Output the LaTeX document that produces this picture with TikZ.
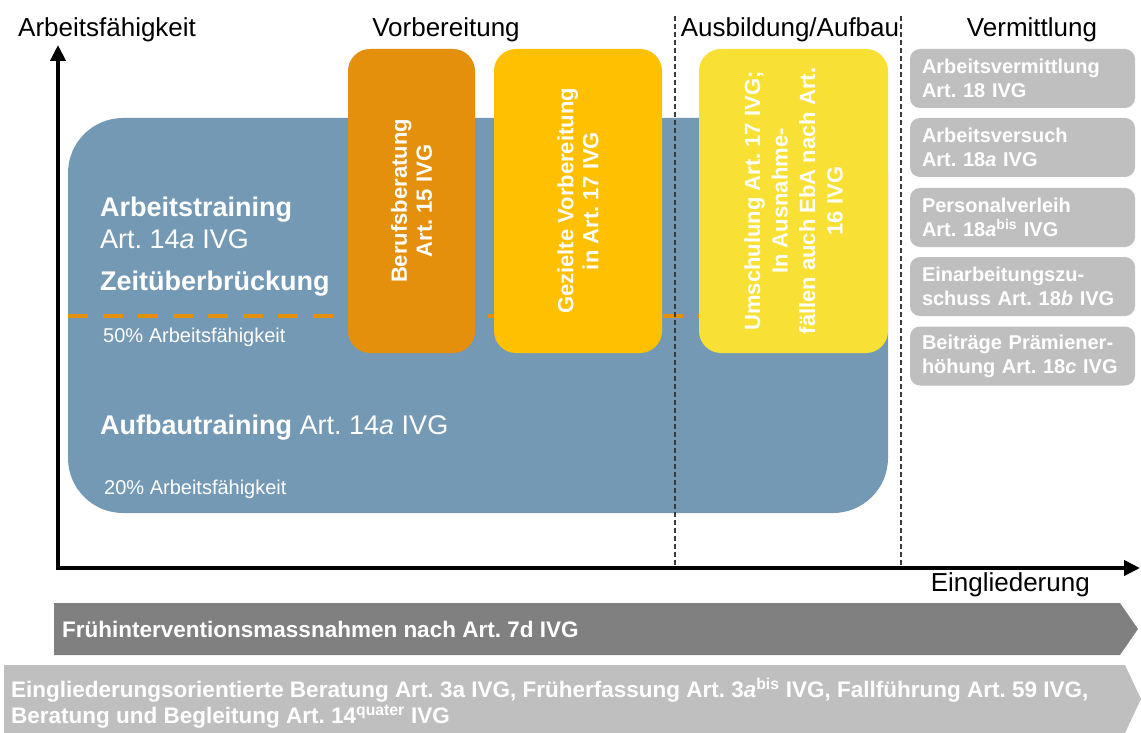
\documentclass[tikz,border=0pt]{standalone}
\usepackage{fontspec}
\setmainfont{Liberation Sans}
\usetikzlibrary{arrows.meta}
\frenchspacing

\definecolor{trainblue}{RGB}{116,153,181}
\definecolor{beratorange}{RGB}{228,144,13}
\definecolor{vorbgold}{RGB}{254,192,0}
\definecolor{umschulyellow}{RGB}{248,224,52}
\definecolor{vermgray}{RGB}{191,191,191}
\definecolor{fruehgray}{RGB}{128,128,128}
\definecolor{phasegray}{RGB}{60,60,60}

\begin{document}
\begin{tikzpicture}[x=1pt,y=-1pt,
  heading/.style={inner sep=0pt,font=\fontsize{26}{30}\selectfont},
  traintext/.style={anchor=base west,inner sep=0pt,text=white,font=\fontsize{27}{32}\selectfont},
  smalltext/.style={anchor=base west,inner sep=0pt,text=white,font=\fontsize{20}{24}\selectfont},
  massbox/.style={rotate=90,rounded corners=22pt,minimum width=304pt,align=center,text=white,font=\bfseries\fontsize{22}{25}\selectfont},
  vermbox/.style={fill=vermgray,rounded corners=10pt,minimum width=225pt,minimum height=59pt,inner xsep=12pt,text width=201pt,align=left,text=white,font=\bfseries\fontsize{20}{24}\selectfont},
  bartext/.style={anchor=west,inner sep=0pt,align=left,text=white,font=\bfseries\fontsize{22.5}{26}\selectfont},
  phaseline/.style={phasegray,line width=1.2pt,dash pattern=on 5pt off 3pt}]

        \useasboundingbox (0,0) rectangle (1141,733);

        \node[fill=trainblue,rounded corners=55pt,minimum width=820pt,minimum height=395pt,inner sep=0pt] (train) at (478,315.5) {};

        \coordinate (halfwest) at (68,316);
        \coordinate (halfeast) at (888,316);
        \draw[beratorange,line width=4pt,dash pattern=on 20pt off 15pt] (halfwest) -- (halfeast);

        \coordinate (phaseatop) at (675,16);
        \coordinate (phaseabot) at (675,565);
        \coordinate (phasebtop) at (901,16);
        \coordinate (phasebbot) at (901,565);
        \draw[phaseline] (phaseatop) -- (phaseabot);
        \draw[phaseline] (phasebtop) -- (phasebbot);

        \coordinate (origin) at (58,568);
        \coordinate (ytip) at (58,45);
        \coordinate (xtip) at (1140,568);
        \draw[line width=4pt,{Triangle[width=15pt,length=16pt]}-{Triangle[width=15pt,length=16pt]}] (ytip) -- (origin) -- (xtip);

        \node[heading,anchor=base west] (yname) at (18,37) {Arbeitsfähigkeit};
        \node[heading,anchor=base] (vorb) at (446,37) {Vorbereitung};
        \node[heading,anchor=base] (ausb) at (790,37) {Ausbildung/Aufbau};
        \node[heading,anchor=base] (verm) at (1032,37) {Vermittlung};
        \node[heading,anchor=base east] (xname) at (1090,591) {Eingliederung};

        \node[massbox,fill=beratorange,minimum height=127pt] (beruf) at (411.5,201) {Berufsberatung\\Art. 15 IVG};
        \node[massbox,fill=vorbgold,minimum height=168pt] (gezielt) at (578,201) {Gezielte Vorbereitung\\in Art. 17 IVG};
        \node[massbox,fill=umschulyellow,minimum height=189pt,font=\bfseries\fontsize{22}{27.5}\selectfont] (umschul) at (793.5,201) {Umschulung Art. 17 IVG;\\In Ausnahme-\\fällen auch EbA nach Art.\\16 IVG};

        \node[traintext,font=\bfseries\fontsize{27}{32}\selectfont] (arbtrain) at (100,216) {Arbeitstraining};
        \node[traintext] (arbart) at (100,248) {Art. 14\textit{a} IVG};
        \node[traintext,font=\bfseries\fontsize{27}{32}\selectfont] (zeit) at (100,290) {Zeitüberbrückung};
        \node[smalltext] (halbfaehig) at (103,342) {50\% Arbeitsfähigkeit};
        \node[traintext] (aufbau) at (100,434) {\textbf{Aufbautraining} Art. 14\textit{a} IVG};
        \node[smalltext] (fuenftelfaehig) at (104,494) {20\% Arbeitsfähigkeit};

        \node[vermbox] (vermittlung) at (1022.5,78.5) {Arbeitsvermittlung\\Art. 18 IVG};
        \node[vermbox] (versuch) at (1022.5,147.5) {Arbeitsversuch\\Art. 18\textit{a} IVG};
        \node[vermbox] (verleih) at (1022.5,217.5) {Personalverleih\\Art. 18\textit{a}\textsuperscript{bis} IVG};
        \node[vermbox] (zuschuss) at (1022.5,286.5) {Einarbeitungszu-\\schuss Art. 18\textit{b} IVG};
        \node[vermbox] (praemien) at (1022.5,356) {Beiträge Prämiener-\\höhung Art. 18\textit{c}~IVG};

        \fill[fruehgray] (54,603) -- (1120,603) -- (1138,629) -- (1120,655) -- (54,655) -- cycle;
        \node[bartext] (frueh) at (62,629) {Frühinterventionsmassnahmen nach Art. 7d IVG};

        \fill[vermgray] (4,665) -- (1125,665) -- (1141,699) -- (1125,733) -- (4,733) -- cycle;
        \node[bartext] (beratung) at (11,703) {Eingliederungsorientierte Beratung Art. 3a IVG, Früherfassung Art. 3\textit{a}\textsuperscript{bis} IVG, Fallführung Art. 59 IVG,\\Beratung und Begleitung Art. 14\textsuperscript{quater} IVG};
      \end{tikzpicture}
\end{document}
